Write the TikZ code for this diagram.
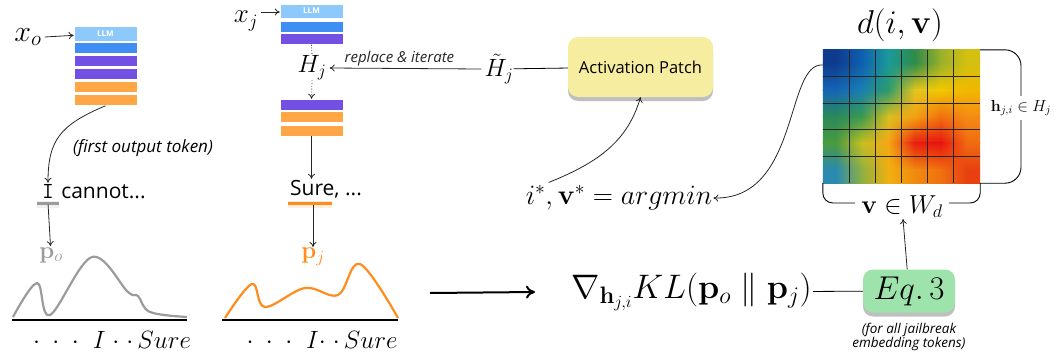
\RequirePackage{fix-cm}
\documentclass[tikz,border=0pt]{standalone}
\usepackage{amsmath}
\usepackage[no-math]{fontspec}
\usepackage{tikz}
\usetikzlibrary{arrows.meta, positioning, calc, shadows, shadings}
\newfontfamily\uisans{Open Sans}
\definecolor{llmsky}{HTML}{8EC9FB}
\definecolor{llmblue}{HTML}{3F8EF3}
\definecolor{llmpurple}{HTML}{7150E3}
\definecolor{llmorange}{HTML}{FFA647}
\definecolor{patchyellow}{HTML}{F7EDA0}
\definecolor{eqgreen}{HTML}{9DE3AB}
\definecolor{distgrey}{HTML}{9B9B9B}
\definecolor{distorange}{HTML}{FF8C1C}

\begin{document}
\begin{tikzpicture}[
  x=1pt, y=-1pt,
  layer/.style={rectangle, minimum width=63, minimum height=11, inner sep=0, draw=white, line width=0.5pt},
  llmlayer/.style={layer, fill=llmsky, minimum height=14.5, text=white, font=\uisans\bfseries\fontsize{8}{8}\selectfont},
  arr/.style={-{To[length=5pt, width=7pt]}, line width=0.8pt, black!85},
  mathlbl/.style={font=\fontsize{25}{25}\selectfont, inner sep=1},
  tokentext/.style={font=\uisans\fontsize{21}{21}\selectfont, inner sep=1},
  note/.style={font=\uisans\itshape\fontsize{17}{17}\selectfont, inner sep=1},
  padbox/.style={rectangle, rounded corners=10, inner sep=0,
    drop shadow={shadow xshift=0pt, shadow yshift=-4pt, opacity=0.25, fill=black}},
]
  \useasboundingbox (0,0) rectangle (1058,362);

  % Original prompt through the LLM
  \node[mathlbl, font=\fontsize{30}{30}\selectfont, inner sep=0] (xo) at (28,37) {$x_o$};
  \node[llmlayer] (oA) at (105.5,33.5) {LLM};
  \node[layer, fill=llmblue] (oB) at (105.5,48) {};
  \node[layer, fill=llmpurple] (oC) at (105.5,61) {};
  \node[layer, fill=llmpurple] (oD) at (105.5,74) {};
  \node[layer, fill=llmorange] (oE) at (105.5,87) {};
  \node[layer, fill=llmorange] (oF) at (105.5,100) {};
  \draw[arr] ([xshift=3pt]xo.east) -- (oA);

  % First output token of the original prompt
  \node[tokentext, font=\ttfamily\fontsize{23}{23}\selectfont] (tokI) at (48,191) {I};
  \node[tokentext, anchor=base west] (cannot) at ([xshift=5pt]tokI.base east) {cannot...};
  \draw[distgrey, line width=7pt, opacity=0.15] (37,204) -- (59,204);
  \node[rectangle, fill=distgrey, minimum width=22, minimum height=3, inner sep=0] (barI) at (48,203) {};
  \draw[arr] (oF.south) .. controls (60,125) and (48,140) .. (tokI.north);
  \node[note] (firsttok) at (143,148) {(first output token)};
  \node[mathlbl, font=\fontsize{24}{24}\selectfont, text=distgrey] (po) at (51,255) {$\mathbf{p}_o$};
  \draw[arr] (barI) -- (po);

  % Original distribution
  \draw[distgrey, line width=2.2pt, line join=round] plot[smooth, tension=0.6] coordinates
    {(13,317) (37,283) (50,315) (92,257) (128,292) (138,296) (150,312) (187,317)};
  \draw[line width=2.5pt] (12,320) -- (187,320);
  \node[mathlbl] (axo) at (112,340) {$\cdot\;\cdot\;\cdot\;\; I\;{\cdot}\;{\cdot}\,Sure$};

  % Jailbreak prompt through the LLM
  \node[mathlbl, font=\fontsize{27}{27}\selectfont, inner sep=0] (xj) at (246,21) {$x_j$};
  \node[llmlayer] (jA) at (311.5,11) {LLM};
  \node[layer, fill=llmblue] (jB) at (311.5,26.5) {};
  \node[layer, fill=llmpurple] (jC) at (311.5,39) {};
  \node[mathlbl, inner sep=0] (Hj) at (312,68) {$H_j$};
  \node[layer, fill=llmpurple] (jD) at (311.5,104.5) {};
  \node[layer, fill=llmorange] (jE) at (311.5,117) {};
  \node[layer, fill=llmorange] (jF) at (311.5,130.5) {};
  \draw[arr] ([xshift=3pt, yshift=9pt]xj.east) -- ([yshift=-1pt]jA.west);
  \draw[line width=0.8pt, dotted] (jC.south) -- (Hj.north);
  \draw[arr, dotted] (Hj.south) -- (jD.north);

  % First output token of the jailbreak prompt
  \node[tokentext] (sure) at (326,189) {Sure, ...};
  \draw[distorange, line width=7pt, opacity=0.15] (288,204) -- (332,204);
  \node[rectangle, fill=distorange, minimum width=44, minimum height=3, inner sep=0] (barS) at (310,203) {};
  \draw[arr] (jF.south) -- (sure.north -| jF.south);
  \node[mathlbl, font=\fontsize{24}{24}\selectfont, text=distorange] (pj) at (313,257) {$\mathbf{p}_j$};
  \draw[arr] (barS.south -| pj.north) -- (pj);

  % Jailbreak distribution
  \draw[distorange, line width=2.2pt, line join=round] plot[smooth, tension=0.6] coordinates
    {(225,318) (252,284) (265,307) (305,288) (338,295) (360,264) (398,318)};
  \draw[line width=2.5pt] (222,320) -- (398,320);
  \node[mathlbl] (axj) at (322,340) {$\cdot\;\cdot\;\cdot\;\; I{\cdot}\;{\cdot}\,Sure$};

  % Patching loop
  \node[padbox, fill=patchyellow, minimum width=145, minimum height=60,
        font=\uisans\fontsize{16.5}{16.5}\selectfont] (patch) at (640.5,67) {Activation Patch};
  \node[mathlbl, inner sep=0] (Htil) at (499,69) {$\tilde{H}_j$};
  \draw[arr] ([xshift=-3pt]Htil.west) -- node[note, font=\uisans\itshape\fontsize{15}{15}\selectfont, above=1pt, pos=0.54] {replace \& iterate} ([xshift=3pt]Hj.east);
  \draw[line width=0.8pt] (Htil) -- (patch);
  \node[mathlbl, font=\fontsize{28}{28}\selectfont] (argmin) at (619,198) {$i^*, \mathbf{v}^* = argmin$};
  \draw[arr] ([xshift=24pt,yshift=2pt]argmin.north west) .. controls (600,162) and (628,140) .. (patch.south);

  % Gradient of the KL divergence
  \node[mathlbl, font=\fontsize{34}{34}\selectfont, anchor=west] (kl) at (570,292) {$\nabla_{\mathbf{h}_{j,i}} KL(\mathbf{p}_o \parallel \mathbf{p}_j)$};
  \coordinate (bigstart) at (430,293);
  \draw[-{To[length=9pt, width=13pt]}, line width=2pt] (bigstart) -- ([xshift=-35pt]kl.west);
  \node[padbox, fill=eqgreen, minimum width=92, minimum height=43,
        font=\fontsize{33}{33}\selectfont] (eq3) at (909,291) {$Eq.\,3$};
  \draw[line width=0.8pt] (kl) -- (eq3);
  \node[note, font=\uisans\itshape\fontsize{13.5}{14}\selectfont, align=center, below=9pt of eq3] (jbnote)
    {(for all jailbreak\\embedding tokens)};

  % Distance heatmap, one colour per cell
  \node[mathlbl, font=\fontsize{33}{33}\selectfont] (dlab) at (900,25) {$d(i,\mathbf{v})$};
  \node[rectangle, minimum width=157, minimum height=133, inner sep=0] (hm) at (901.5,116.5) {};
  \foreach \c [count=\k from 0] in {
      0D3B8E,1060B0,1A9A9A,2E8B4A,9AB02A,D4C010,
      1565B5,1A80B0,2E9A6A,E0C520,F2C800,F0B800,
      2A8A5A,3A9A50,D8C020,F5A010,F07010,F58A15,
      4A9A40,C8C020,F5A515,E82010,E81510,F06A10,
      2A8AB0,90B040,F0B010,F08A10,F07010,E84010} {
    \pgfmathtruncatemacro\col{mod(\k,6)}
    \pgfmathtruncatemacro\row{div(\k,6)}
    \xglobal\definecolor{hm\row\col}{HTML}{\c}
  }
  % blend neighbouring cells at the half-cell points
  \foreach \R in {0,...,10} {
    \foreach \C in {0,...,12} {
      \pgfmathtruncatemacro\ra{max(0,floor((\R-1)/2))}
      \pgfmathtruncatemacro\rb{min(4,floor(\R/2))}
      \pgfmathtruncatemacro\ca{max(0,floor((\C-1)/2))}
      \pgfmathtruncatemacro\cb{min(5,floor(\C/2))}
      \colorlet{mixtop}{hm\ra\ca!50!hm\ra\cb}
      \colorlet{mixbot}{hm\rb\ca!50!hm\rb\cb}
      \xglobal\colorlet{sv\R x\C}{mixtop!50!mixbot}
    }
  }
  \foreach \R in {0,...,9} {
    \foreach \C in {0,...,11} {
      \pgfmathtruncatemacro\Rn{\R+1}
      \pgfmathtruncatemacro\Cn{\C+1}
      \shade[upper left=sv\R x\C, upper right=sv\R x\Cn, lower left=sv\Rn x\C, lower right=sv\Rn x\Cn]
        ($(hm.north west)+(\C*157/12,\R*133/10)$) rectangle ++(157/12+0.3,133/10+0.3);
    }
  }
  \foreach \i in {1,...,5}
    \draw[black!85, line width=0.6pt] ($(hm.north west)+(\i*157/6,0)$) -- ++(0,133);
  \foreach \i in {1,...,4}
    \draw[black!85, line width=0.6pt] ($(hm.north west)+(0,\i*133/5)$) -- ++(157,0);
  \node[mathlbl, font=\fontsize{16}{16}\selectfont, minimum height=24, inner xsep=0] (hlab) at (1021,108) {$\mathbf{h}_{j,i} \in H_j$};
  \draw[line width=0.9pt, rounded corners=16] (hm.north east) -| (hlab.north);
  \draw[line width=0.9pt, rounded corners=16] (hm.south east) -| (hlab.south);
  \node[mathlbl, font=\fontsize{26}{26}\selectfont, inner xsep=6] (vlab) at (902,207) {$\mathbf{v} \in W_d$};
  \draw[line width=0.9pt, rounded corners=10] (hm.south west) |- ([yshift=4pt]vlab.west);
  \draw[line width=0.9pt, rounded corners=10] (hm.south east) |- ([yshift=4pt]vlab.east);
  \draw[arr] (eq3) -- (vlab);
  \draw[arr] (hm.west |- 0,65) .. controls (785,62) and (800,200) .. (argmin.east);
\end{tikzpicture}
\end{document}
